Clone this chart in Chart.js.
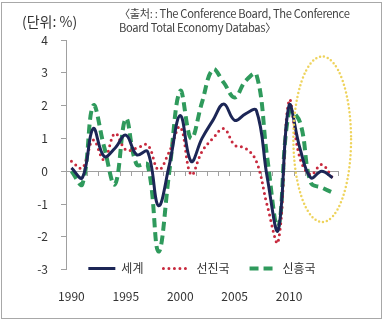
<!DOCTYPE html>
<html>
<head>
<meta charset="utf-8">
<script src="https://cdn.jsdelivr.net/npm/chart.js@4.4.1/dist/chart.umd.min.js"></script>
<style>
  body { margin: 0; background: #fff; }
  #wrap { position: relative; width: 387px; height: 322px; font-family: 'Noto Sans CJK KR', sans-serif; color: #333; }
  #frame { position: absolute; left: 1px; top: 2px; width: 381px; height: 317px; border: 1px solid #a8a8a8; box-sizing: border-box; }
  #unit { position: absolute; left: 22px; top: 13px; font-size: 14px; line-height: 16px; }
  #source { position: absolute; left: 119px; top: 6px; font-size: 11.2px; letter-spacing: -0.35px; line-height: 14px; color: #444; white-space: nowrap; }
  canvas { position: absolute; left: 0; top: 0; }
</style>
</head>
<body>
<div id="wrap">
  <div id="frame"></div>
  <canvas id="growthChart" width="387" height="322"></canvas>
  <div id="unit">(단위: %)</div>
  <div id="source">〈출처: : The Conference Board, The Conference<br>Board Total Economy Databas〉</div>
</div>
<script>
        const years = ['1990', '1991', '1992', '1993', '1994', '1995', '1996', '1997', '1998', '1999',
                       '2000', '2001', '2002', '2003', '2004', '2005', '2006', '2007', '2008', '2009',
                       '2010', '2011', '2012', '2013', '2014'];
        const shownYears = ['1990', '1995', '2000', '2005', '2010'];
        const seriesNames = ['세계', '선진국', '신흥국'];

        const world = [0.1, -0.2, 1.3, 0.45, 0.7, 1.1, 0.5, 0.6, -1.05, 0.2,
                       1.7, 0.3, 1.0, 1.55, 2.05, 1.55, 1.75, 1.85, -0.2, -1.8,
                       2.0, 0.7, -0.2, 0.0, -0.2];
        const advanced = [0.3, 0.1, 0.95, 0.35, 1.15, 0.65, 0.7, 0.8, 0.05, 0.6,
                          1.35, -0.1, 0.6, 1.0, 1.3, 0.8, 0.7, 0.3, -1.05, -2.15,
                          2.15, 0.4, -0.1, 0.2, -0.2];
        const emerging = [0.0, -0.4, 2.0, 0.75, -0.4, 1.6, 0.2, 0.2, -2.45, 0.0,
                          2.45, 1.0, 2.1, 3.1, 2.7, 2.25, 2.75, 2.95, 0.4, -1.7,
                          1.8, 1.5, -0.35, -0.5, -0.65];

        const yMin = -3;
        const yMax = 4;

        // dotted ellipse around the recent years
        const highlightYears = [2010.4, 2015.7];
        const highlightValues = [-1.55, 3.5];

        const axisGray = '#a0a0a0';
        const textColor = '#333';

        Chart.defaults.font.family = "'Noto Sans CJK KR', sans-serif";
        Chart.defaults.font.size = 12;
        Chart.defaults.color = textColor;

        // put the legend just above the bottom of the plot area
        const legendInPlot = {
            id: 'legendInPlot',
            afterLayout(chart) {
                const lg = chart.legend;
                const pad = lg.options.labels.padding;
                const fs = 12;
                const h = fs + pad + 10;
                lg.top = chart.chartArea.bottom - 1 - pad - fs / 2;
                lg.bottom = lg.top + h;
                lg.height = h;
            }
        };

        const highlightEllipse = {
            id: 'highlightEllipse',
            afterDatasetsDraw(chart) {
                const { ctx, scales } = chart;
                const first = parseInt(years[0]);
                const x1 = scales.x.getPixelForValue(highlightYears[0] - first);
                const x2 = scales.x.getPixelForValue(highlightYears[1] - first);
                const y1 = scales.y.getPixelForValue(highlightValues[1]);
                const y2 = scales.y.getPixelForValue(highlightValues[0]);
                ctx.save();
                ctx.beginPath();
                ctx.ellipse((x1 + x2) / 2, (y1 + y2) / 2, (x2 - x1) / 2, (y2 - y1) / 2, 0, 0, Math.PI * 2);
                ctx.strokeStyle = '#eed35c';
                ctx.lineWidth = 2.5;
                ctx.lineCap = 'round';
                ctx.setLineDash([0, 4]);
                ctx.stroke();
                ctx.restore();
            }
        };

        function lineDataset(label, data, color, width, dash, cap) {
            return {
                label: label,
                data: data,
                borderColor: color,
                backgroundColor: color,
                borderWidth: width,
                borderDash: dash,
                borderCapStyle: cap,
                pointRadius: 0,
                tension: 0.4,
                fill: false
            };
        }

        const ctx = document.getElementById('growthChart').getContext('2d');
        const chart = new Chart(ctx, {
            type: 'line',
            data: {
                labels: years,
                datasets: [
                    lineDataset(seriesNames[0], world, '#1c2656', 3, [], 'butt'),
                    lineDataset(seriesNames[1], advanced, '#c82a3e', 3, [0, 5.5], 'round'),
                    lineDataset(seriesNames[2], emerging, '#2f9a5c', 4, [9, 5], 'butt')
                ]
            },
            options: {
                responsive: false,
                animation: false,
                layout: { padding: { left: 36, right: 49, top: 40, bottom: -12 } },
                plugins: {
                    tooltip: { enabled: false },
                    legend: {
                        position: 'bottom',
                        fullSize: false,
                        maxHeight: 10,
                        labels: {
                            usePointStyle: true,
                            pointStyle: 'line',
                            pointStyleWidth: 27,
                            padding: 20,
                            color: textColor,
                            font: { size: 12 },
                            generateLabels(chart) {
                                const items = Chart.defaults.plugins.legend.labels.generateLabels(chart);
                                items.forEach(item => {
                                    const ds = chart.data.datasets[item.datasetIndex];
                                    item.lineDash = ds.borderDash;
                                    item.lineCap = ds.borderCapStyle;
                                    item.lineWidth = ds.borderWidth;
                                    item.strokeStyle = ds.borderColor;
                                });
                                return items;
                            }
                        }
                    }
                },
                scales: {
                    x: {
                        type: 'category',
                        offset: true,
                        grid: { display: false, drawTicks: false },
                        border: { display: false },
                        ticks: {
                            autoSkip: false,
                            maxRotation: 0,
                            padding: 20,
                            color: textColor,
                            callback: (value, index) => shownYears.includes(years[index]) ? years[index] : ''
                        }
                    },
                    x0: {
                        type: 'category',
                        labels: years,
                        position: { y: 0 },
                        offset: true,
                        grid: { offset: true, drawOnChartArea: false, drawTicks: true, tickLength: 4, color: axisGray },
                        border: { color: axisGray },
                        ticks: { display: false }
                    },
                    y: {
                        min: yMin,
                        max: yMax,
                        ticks: { stepSize: 1, padding: 13, color: textColor },
                        grid: { drawOnChartArea: false, drawTicks: true, tickLength: 5, color: axisGray },
                        border: { color: axisGray },
                        afterFit(scale) { scale.width = 30; }
                    }
                }
            },
            plugins: [legendInPlot, highlightEllipse]
        });
</script>
</body>
</html>
